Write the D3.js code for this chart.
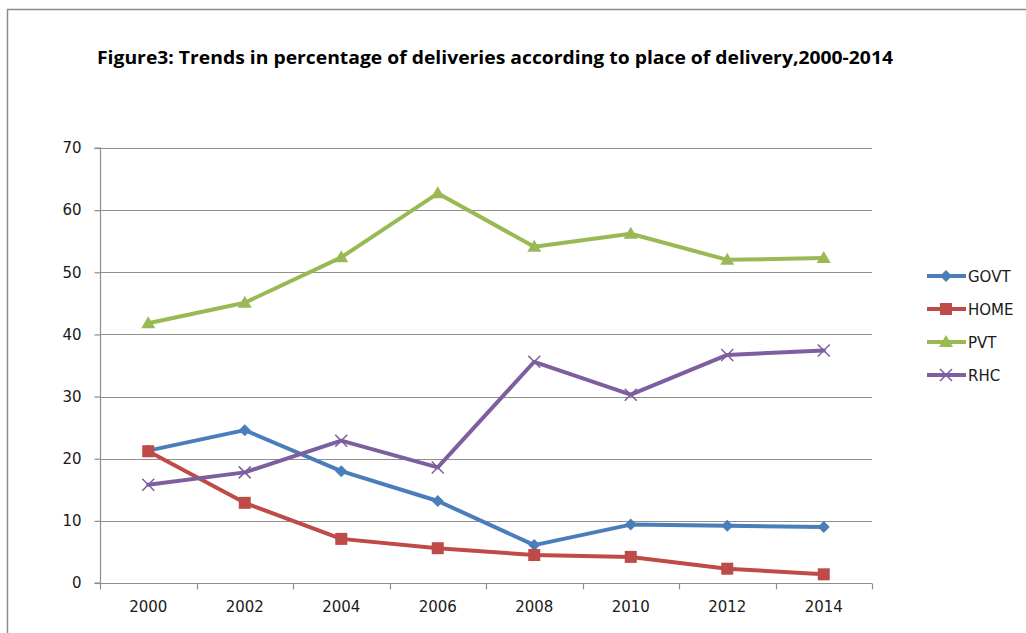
<!DOCTYPE html>
<html>
<head>
<meta charset="utf-8">
<script src="https://cdn.jsdelivr.net/npm/d3@7"></script>
<style>
  html, body { margin: 0; padding: 0; background: #fff; }
  svg { display: block; }
</style>
</head>
<body>
<div id="chart"></div>
<script>
// chart data
var years = ["2000", "2002", "2004", "2006", "2008", "2010", "2012", "2014"];
var govt = [21.3, 24.6, 18.0, 13.2, 6.1, 9.4, 9.2, 9.0];
var home = [21.2, 12.9, 7.1, 5.6, 4.5, 4.2, 2.3, 1.4];
var pvt  = [41.8, 45.1, 52.4, 62.7, 54.1, 56.2, 52.0, 52.3];
var rhc  = [15.8, 17.8, 22.9, 18.6, 35.6, 30.3, 36.7, 37.4];
var yTicks = [0, 10, 20, 30, 40, 50, 60, 70];

var series = [
  { name: "GOVT", values: govt, color: "#4a7ebb", marker: "diamond" },
  { name: "HOME", values: home, color: "#be4b48", marker: "square" },
  { name: "PVT",  values: pvt,  color: "#98b954", marker: "triangle" },
  { name: "RHC",  values: rhc,  color: "#7d5fa0", marker: "cross" }
];

var width = 1026, height = 633;
var plot = { left: 100, right: 872, top: 148, bottom: 583 };

var svg = d3.select("#chart").append("svg")
    .attr("width", width)
    .attr("height", height);

// chart frame (only left + top visible in the crop)
svg.append("path")
    .attr("d", "M7.5,640V9.5H1040")
    .attr("fill", "none")
    .attr("stroke", "#8c8c8c")
    .attr("stroke-width", 1.5);

svg.append("text")
    .attr("x", 97)
    .attr("y", 64)
    .attr("font-family", "'Open Sans', 'DejaVu Sans', sans-serif")
    .attr("font-weight", "bold")
    .attr("font-size", 17.5)
    .attr("textLength", 796)
    .attr("lengthAdjust", "spacingAndGlyphs")
    .attr("fill", "#000")
    .text("Figure3: Trends in percentage of deliveries according to place of delivery,2000-2014");

var x = d3.scaleBand().domain(years).range([plot.left, plot.right]);
var y = d3.scaleLinear().domain([0, 70]).range([plot.bottom, plot.top]);

// gridlines
svg.append("g")
  .selectAll("line")
  .data(yTicks.filter(function (d) { return d > 0; }))
  .join("line")
    .attr("x1", plot.left)
    .attr("x2", plot.right)
    .attr("y1", function (d) { return Math.round(y(d)) + 0.5; })
    .attr("y2", function (d) { return Math.round(y(d)) + 0.5; })
    .attr("stroke", "#8e8e8e")
    .attr("stroke-width", 1.2);

// y axis
var yAxis = svg.append("g")
    .attr("transform", "translate(" + (plot.left + 0.5) + ",0)")
    .call(d3.axisLeft(y).tickValues(yTicks).tickSize(6).tickPadding(13));
yAxis.select(".domain").attr("stroke", "#8e8e8e").attr("stroke-width", 1.2)
    .attr("d", "M-6," + plot.top + "H0V" + plot.bottom + "H-6");

// x axis
var xAxis = svg.append("g")
    .attr("transform", "translate(0," + (plot.bottom + 0.5) + ")")
    .call(d3.axisBottom(x).tickSize(0).tickPadding(18));
xAxis.select(".domain").attr("stroke", "#8e8e8e").attr("stroke-width", 1.2)
    .attr("d", "M" + plot.left + ",0H" + plot.right);

// x tick marks sit between categories
xAxis.append("g")
  .selectAll("line")
  .data(d3.range(years.length + 1))
  .join("line")
    .attr("x1", function (i) { return Math.round(plot.left + i * x.step()) + 0.5; })
    .attr("x2", function (i) { return Math.round(plot.left + i * x.step()) + 0.5; })
    .attr("y1", 0)
    .attr("y2", 6)
    .attr("stroke", "#8e8e8e")
    .attr("stroke-width", 1.2);

svg.selectAll(".tick line").attr("stroke", "#8e8e8e").attr("stroke-width", 1.2);
svg.selectAll(".tick text")
    .attr("font-family", "'DejaVu Sans', Verdana, sans-serif")
    .attr("font-size", 15)
    .attr("fill", "#1a1a1a");

function cx(i) { return x(years[i]) + x.bandwidth() / 2; }

function drawMarker(g, type, color) {
  if (type === "diamond") {
    g.append("path").attr("d", "M0,-6L6,0L0,6L-6,0Z").attr("fill", color);
  } else if (type === "square") {
    g.append("rect").attr("x", -6).attr("y", -6).attr("width", 12).attr("height", 12).attr("fill", color);
  } else if (type === "triangle") {
    g.append("path").attr("d", "M0,-7L7,5H-7Z").attr("fill", color);
  } else {
    g.append("path").attr("d", "M-6,-6L6,6M-6,6L6,-6")
        .attr("stroke", color).attr("stroke-width", 1.5).attr("fill", "none");
  }
}

var line = d3.line()
    .x(function (d, i) { return cx(i); })
    .y(function (d) { return y(d); });

series.forEach(function (s) {
  var g = svg.append("g");
  g.append("path")
      .attr("d", line(s.values))
      .attr("fill", "none")
      .attr("stroke", s.color)
      .attr("stroke-width", 4)
      .attr("stroke-linejoin", "round")
      .attr("stroke-linecap", "round");
  s.values.forEach(function (v, i) {
    var m = g.append("g").attr("transform", "translate(" + cx(i) + "," + y(v) + ")");
    drawMarker(m, s.marker, s.color);
  });
});

// legend
var legend = svg.append("g");
series.forEach(function (s, i) {
  var ly = 276 + i * 33;
  var row = legend.append("g").attr("transform", "translate(0," + ly + ")");
  row.append("line")
      .attr("x1", 927).attr("x2", 966)
      .attr("stroke", s.color).attr("stroke-width", 4);
  var m = row.append("g").attr("transform", "translate(946,0)");
  drawMarker(m, s.marker, s.color);
  row.append("text")
      .attr("x", 968)
      .attr("y", 5.5)
      .attr("font-family", "'DejaVu Sans', Verdana, sans-serif")
      .attr("font-size", 15)
      .attr("fill", "#1a1a1a")
      .text(s.name);
});
</script>
</body>
</html>
